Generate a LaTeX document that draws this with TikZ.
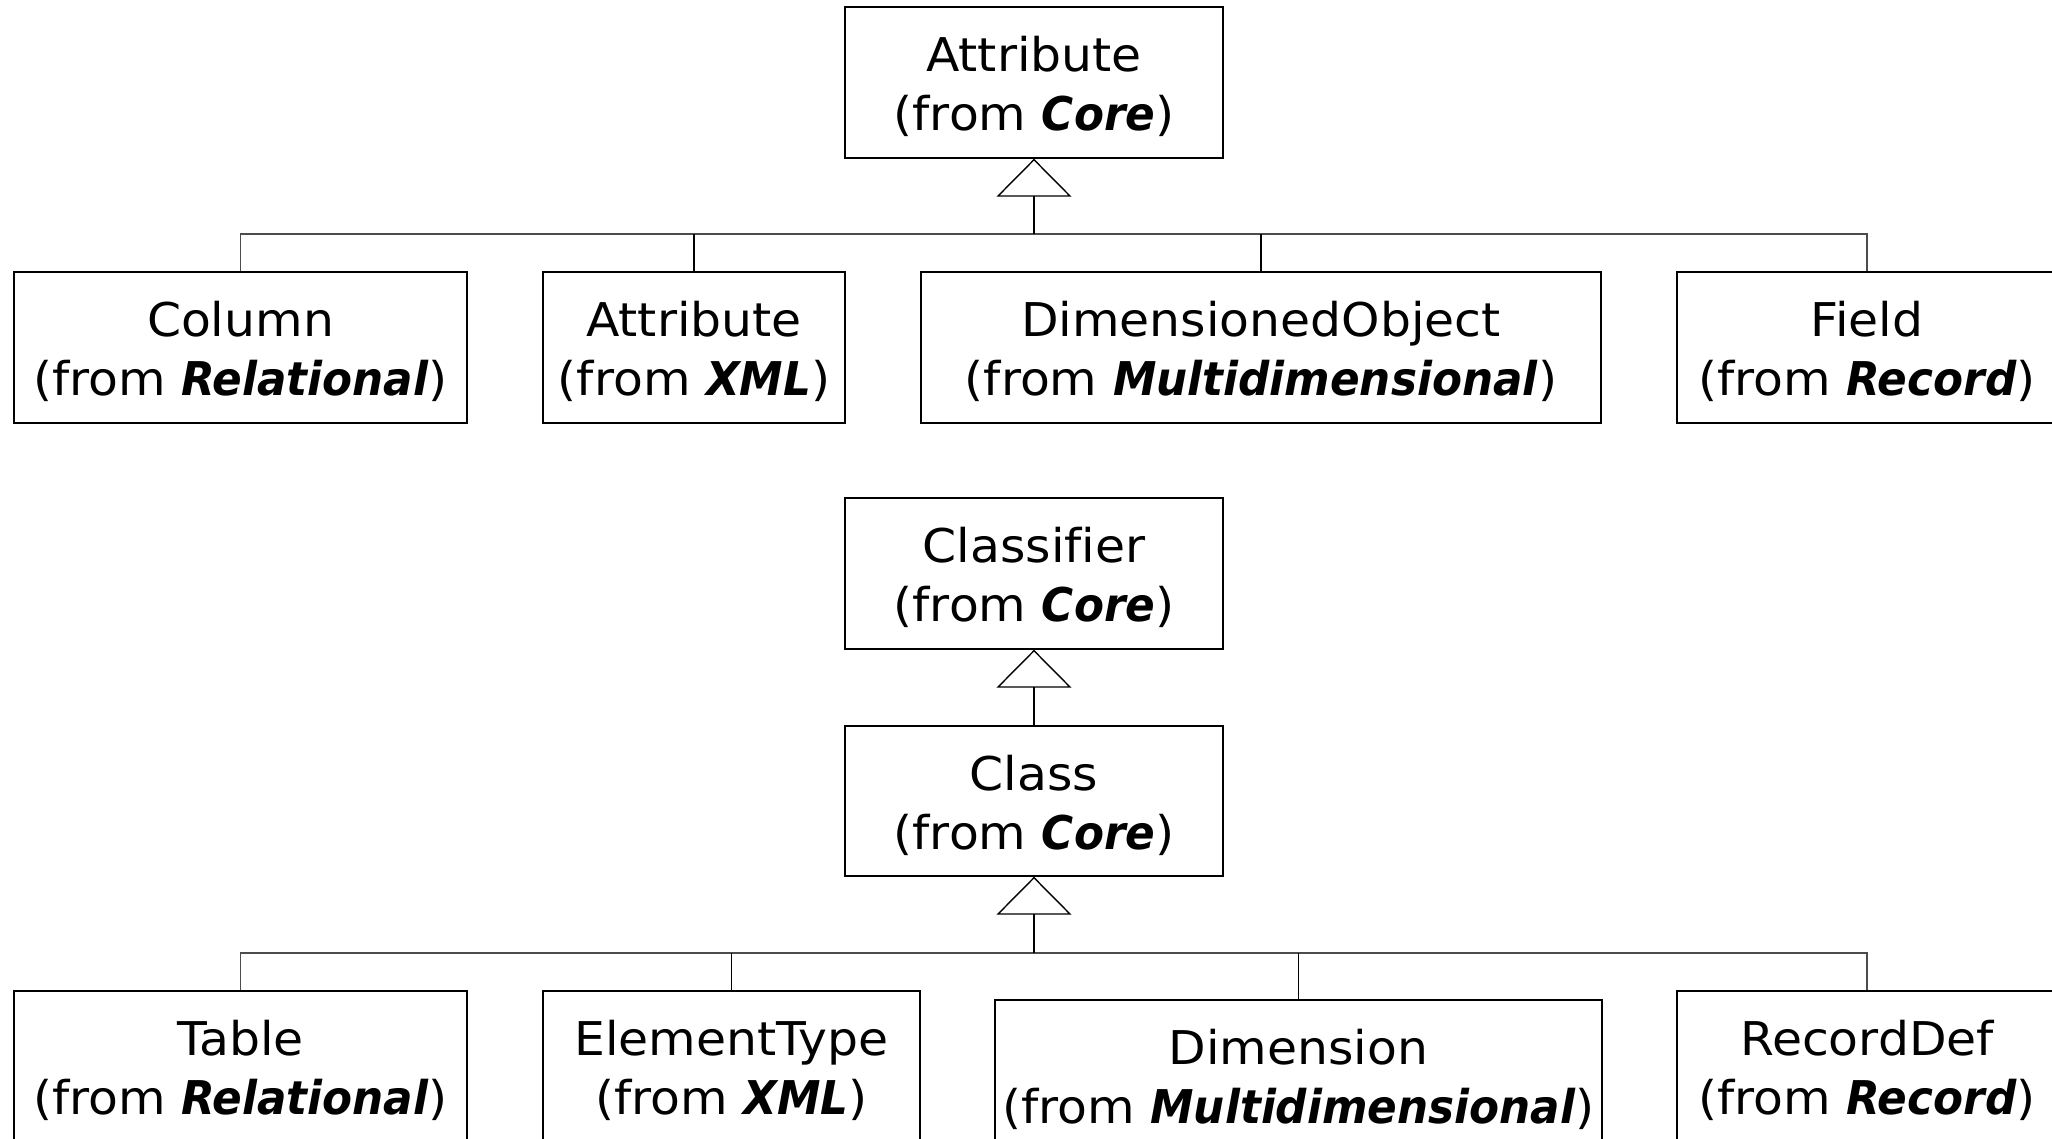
\documentclass[tikz,border=0pt]{standalone}
\usepackage{fontspec}
\setmainfont{DejaVu Sans}[
  Ligatures=NoCommon,
  UprightFeatures={FakeStretch=1.05},
  BoldItalicFeatures={FakeStretch=0.94}]
\usetikzlibrary{arrows.meta}

% class name on the first line, owning package (bold italic) on the second
\newcommand{\umltext}[2]{\rule{0pt}{44pt}#1\\(from \textbf{\textit{#2}})}

\begin{document}
\begin{tikzpicture}[x=1pt,y=-1pt,
  umlclass/.style={draw=black, line width=1.4pt, fill=white, inner sep=0pt,
    align=center, font=\fontsize{46.5}{59}\selectfont},
  link/.style={draw=black, line width=1.4pt},
  bus/.style={draw=black!70, line width=1.8pt},
  inherits/.style={link, -{Triangle[open, length=38pt, width=75pt, line width=1.4pt]}}
]
\useasboundingbox (0,0) rectangle (2052,1138);
\clip (0,0) rectangle (2052,1138);

% ---- attribute hierarchy ----
\node[umlclass, minimum width=378pt, minimum height=151pt] (attr) at (1034,82.5)
  {\umltext{Attribute}{Core}};

\node[umlclass, minimum width=453pt, minimum height=151pt] (column) at (240.5,347.5)
  {\umltext{Column}{Relational}};
\node[umlclass, minimum width=302pt, minimum height=151pt] (xmlattr) at (694,347.5)
  {\umltext{Attribute}{XML}};
\node[umlclass, minimum width=680pt, minimum height=151pt] (dimobj) at (1261,347.5)
  {\umltext{DimensionedObject}{Multidimensional}};
\node[umlclass, minimum width=380pt, minimum height=151pt] (field) at (1867,347.5)
  {\umltext{Field}{Record}};

\coordinate (busA) at (1034,234);
\draw[bus] (column.north) |- (busA) -| (field.north);
\draw[link] (xmlattr.north) -- (xmlattr.north |- busA);
\draw[link] (dimobj.north) -- (dimobj.north |- busA);
\draw[inherits] (busA) -- (attr.south);

% ---- classifier hierarchy ----
\node[umlclass, minimum width=378pt, minimum height=151pt] (classifier) at (1034,573.5)
  {\umltext{Classifier}{Core}};
\node[umlclass, minimum width=378pt, minimum height=150pt] (class) at (1034,801)
  {\umltext{Class}{Core}};
\draw[inherits] (class.north) -- (classifier.south);

\node[umlclass, minimum width=453pt, minimum height=151pt] (table) at (240.5,1066.5)
  {\umltext{Table}{Relational}};
\node[umlclass, minimum width=377pt, minimum height=151pt] (elemtype) at (731.5,1066.5)
  {\umltext{ElementType}{XML}};
\node[umlclass, minimum width=607pt, minimum height=151pt] (dimension) at (1298.5,1075.5)
  {\umltext{Dimension}{Multidimensional}};
\node[umlclass, minimum width=380pt, minimum height=151pt] (recdef) at (1867,1066.5)
  {\umltext{RecordDef}{Record}};

\coordinate (busB) at (1034,953);
\draw[bus] (table.north) |- (busB) -| (recdef.north);
\draw[link] (elemtype.north) -- (elemtype.north |- busB);
\draw[link] (dimension.north) -- (dimension.north |- busB);
\draw[inherits] (busB) -- (class.south);
\end{tikzpicture}
\end{document}
